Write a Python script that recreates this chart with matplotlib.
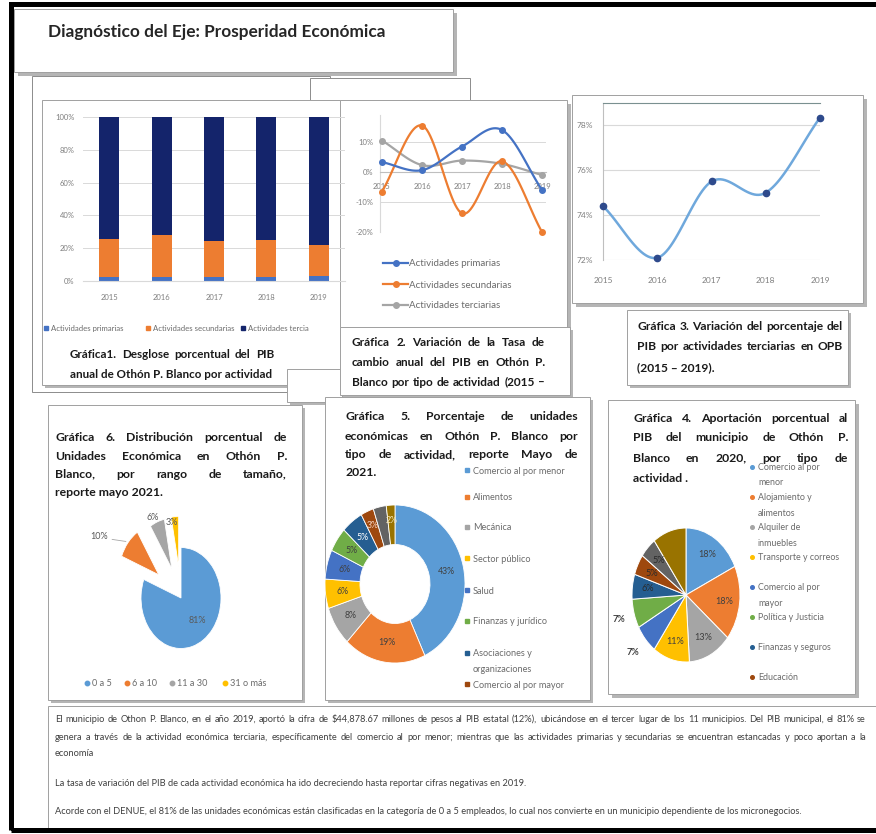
import numpy as np
import matplotlib
matplotlib.use('Agg')
import matplotlib.pyplot as plt
from matplotlib.patches import Rectangle
from matplotlib.lines import Line2D

# ---------------- data ----------------
years = ['2015', '2016', '2017', '2018', '2019']
g1_series = ['Actividades primarias', 'Actividades secundarias', 'Actividades terciarias']
g1_primarias = [2.5, 2.3, 2.4, 2.7, 2.8]
g1_secundarias = [23.1, 25.5, 22.1, 22.3, 18.9]
g1_terciarias = [74.4, 72.2, 75.5, 75.0, 78.3]

g2_primarias = [3.3, 0.6, 8.5, 14.0, -6.0]
g2_secundarias = [-6.5, 15.5, -13.8, 3.6, -20.0]
g2_terciarias = [10.5, 2.3, 3.8, 2.7, -1.0]
g2_ticks = [-20, -10, 0, 10]

g3_terciarias = [74.4, 72.1, 75.5, 75.0, 78.35]
g3_ticks = [72, 74, 76, 78]

g6_categories = ['0 a 5', '6 a 10', '11 a 30', '31 o más']
g6_values = [81, 10, 6, 3]

g5_categories = ['Comercio al por menor', 'Alimentos', 'Mecánica', 'Sector público', 'Salud',
                 'Finanzas y jurídico', 'Asociaciones y\norganizaciones', 'Comercio al por mayor']
g5_values = [43, 19, 8, 6, 6, 5, 5, 3, 3, 2]

g4_categories = ['Comercio al por\nmenor', 'Alojamiento y\nalimentos', 'Alquiler de\ninmuebles',
                 'Transporte y correos', 'Comercio al por\nmayor', 'Política y Justicia',
                 'Finanzas y seguros', 'Educación']
g4_values = [18, 18, 13, 11, 7, 7, 6, 5, 5, 10]

title = 'Diagnóstico del Eje: Prosperidad Económica'
cap1 = ['Gráfica1. Desglose porcentual del PIB', 'anual de Othón P. Blanco por actividad']
cap2 = ['Gráfica 2. Variación de la Tasa de', 'cambio anual del PIB en Othón P.',
        'Blanco por tipo de actividad (2015 –']
cap3 = ['Gráfica 3. Variación del porcentaje del', 'PIB por actividades terciarias en OPB',
        '(2015 – 2019).']
cap6 = ['Gráfica 6. Distribución porcentual de', 'Unidades Económica en Othón P.',
        'Blanco, por rango de tamaño,', 'reporte mayo 2021.']
cap5 = ['Gráfica 5. Porcentaje de unidades', 'económicas en Othón P. Blanco por',
        'tipo de actividad, reporte Mayo de', '2021.']
cap4 = ['Gráfica 4. Aportación porcentual al', 'PIB del municipio de Othón P.',
        'Blanco en 2020, por tipo de', 'actividad .']
body = ['El municipio de Othon P. Blanco, en el año 2019, aportó la cifra de  $44,878.67 millones de pesos al PIB estatal (12%), ubicándose en el tercer lugar de los 11 municipios. Del PIB municipal, el 81% se',
        'genera a través de la actividad económica terciaria, específicamente del comercio al por menor; mientras que las actividades primarias y secundarias se encuentran estancadas y poco aportan a la',
        'economía',
        'La tasa de variación del PIB de cada actividad económica ha ido decreciendo hasta reportar cifras negativas en 2019.',
        'Acorde con el DENUE, el 81% de las unidades económicas están clasificadas en la categoría de 0 a 5 empleados, lo cual nos convierte en un municipio dependiente de los micronegocios.']

# ---------------- styles ----------------
PAL = ['#5B9BD5', '#ED7D31', '#A5A5A5', '#FFC000', '#4472C4', '#70AD47',
       '#255E91', '#9E480E', '#636363', '#997300']
FONT = 'Lato'
TICKC = '#7f7f7f'
LEGC = '#6b6b6b'

W, H = 876, 834
fig = plt.figure(figsize=(W / 100, H / 100), dpi=100)
fig.patch.set_facecolor('white')
renderer = fig.canvas.get_renderer()


def add_ax(x0, y0, x1, y1):
    ax = fig.add_axes([x0 / W, 1 - y1 / H, (x1 - x0) / W, (y1 - y0) / H])
    ax.patch.set_visible(False)
    return ax


def put(x, y, s, size, ha='left', va='center_baseline', **kw):
    kw.setdefault('family', FONT)
    return fig.text(x / W, 1 - y / H, s, fontsize=size, ha=ha, va=va, **kw)


def text_w(s, size, **kw):
    kw.setdefault('family', FONT)
    t = fig.text(0, 0, s, fontsize=size, **kw)
    w = t.get_window_extent(renderer).width
    t.remove()
    return w


def justify(x0, x1, y, s, size, **kw):
    words = s.split()
    widths = [text_w(w, size, **kw) for w in words]
    gap = (x1 - x0 - sum(widths)) / max(len(words) - 1, 1)
    x = x0
    for w, wd in zip(words, widths):
        put(x, y, w, size, **kw)
        x += wd + gap


def caption(lines, x0, x1, ys, size=8.8, justify_last=False):
    kw = dict(weight='bold', color='#1a1a1a')
    maxw = max(text_w(l, size, **kw) for l in lines)
    if maxw > (x1 - x0) * 0.985:
        size = size * (x1 - x0) * 0.985 / maxw
    for i, (l, y) in enumerate(zip(lines, ys)):
        if i < len(lines) - 1 or justify_last:
            justify(x0, x1, y, l, size, **kw)
        else:
            put(x0, y, l, size, **kw)


def box(x0, y0, x1, y1, z, shadow=3, ec='#a0a0a0', lw=0.7):
    if shadow:
        fig.add_artist(Rectangle(((x0 + shadow) / W, 1 - (y1 + shadow) / H), (x1 - x0) / W, (y1 - y0) / H,
                                 transform=fig.transFigure, facecolor='#b5b5b5', edgecolor='none', zorder=z - 0.5))
    fig.add_artist(Rectangle((x0 / W, 1 - y1 / H), (x1 - x0) / W, (y1 - y0) / H,
                             transform=fig.transFigure, facecolor='white', edgecolor=ec, lw=lw, zorder=z))


def mark(x, y, color, marker='s', ms=3.5):
    fig.add_artist(Line2D([x / W], [1 - y / H], marker=marker, markersize=ms, color=color,
                          linestyle='none', transform=fig.transFigure, zorder=4))


def smooth(xs, ys, n=24):
    P = np.column_stack([xs, ys]).astype(float)
    P = np.vstack([2 * P[0] - P[1], P, 2 * P[-1] - P[-2]])
    out = []
    t = np.linspace(0, 1, n, endpoint=False)[:, None]
    for i in range(1, len(P) - 2):
        p0, p1, p2, p3 = P[i - 1], P[i], P[i + 1], P[i + 2]
        out.append(0.5 * (2 * p1 + (-p0 + p2) * t + (2 * p0 - 5 * p1 + 4 * p2 - p3) * t ** 2
                          + (-p0 + 3 * p1 - 3 * p2 + p3) * t ** 3))
    out.append(P[-2][None])
    S = np.vstack(out)
    return S[:, 0], S[:, 1]


# ---------------- boxes ----------------
box(32, 76, 330, 392, -30, shadow=0, ec='#8c8c8c')
box(310, 78, 470, 100, -29, shadow=0, ec='#8c8c8c')
box(14, 9, 453, 72, -28, shadow=4)
box(42, 100, 345, 385, -27, shadow=3)
box(287, 369, 342, 402, -26, shadow=3)
box(340, 100, 567, 327, -25, shadow=4)
box(340, 327, 570, 395, -24, shadow=3)
box(572, 95, 863, 303, -23, shadow=4)
box(627, 310, 848, 385, -22, shadow=3)
box(48, 405, 302, 700, -21, shadow=3)
box(325, 397, 590, 700, -20, shadow=3)
box(608, 400, 855, 694, -19, shadow=4)
box(48, 706, 880, 832, -18, shadow=0)

# outer frame
fig.add_artist(Rectangle((11 / W, 1 - 830 / H), 870 / W, 826 / H, transform=fig.transFigure,
                         facecolor='none', edgecolor='black', lw=3.6, zorder=10))

# ---------------- title ----------------
tw = text_w(title, 10, weight='bold')
put(48, 31, title, 10 * 337 / tw, weight='bold', color='#262626')

# ---------------- Gráfica 1 ----------------
ax1 = add_ax(83, 117, 345, 281)
x = np.arange(len(years))
bw = 0.38
ax1.bar(x, g1_primarias, bw, color='#4472C4', zorder=2)
ax1.bar(x, g1_secundarias, bw, bottom=g1_primarias, color='#ED7D31', zorder=2)
ax1.bar(x, g1_terciarias, bw, bottom=np.add(g1_primarias, g1_secundarias), color='#14246B', zorder=2)
ax1.set_xlim(-0.5, 4.5)
ax1.set_ylim(0, 100)
ax1.set_yticks([0, 20, 40, 60, 80, 100])
ax1.set_yticklabels([f'{v}%' for v in [0, 20, 40, 60, 80, 100]])
ax1.set_xticks(x)
ax1.set_xticklabels(years)
ax1.grid(axis='y', color='#d9d9d9', lw=0.7)
ax1.set_axisbelow(True)
for s in ['top', 'right', 'left']:
    ax1.spines[s].set_visible(False)
ax1.spines['bottom'].set_color('#d9d9d9')
ax1.tick_params(axis='both', length=0, labelsize=5.5, labelcolor=TICKC)
ax1.tick_params(axis='x', pad=9)
ax1.tick_params(axis='y', pad=6)
for lab in ax1.get_xticklabels() + ax1.get_yticklabels():
    lab.set_family(FONT)

leg1 = [(46, 51, 'Actividades primarias', '#4472C4'),
        (148, 153, 'Actividades secundarias', '#ED7D31'),
        (243, 248, 'Actividades tercia', '#14246B')]
for mx, tx, s, col in leg1:
    mark(mx, 328, col, 's', 3.2)
    put(tx, 328, s, 5.6, color=LEGC)
caption(cap1, 70, 274, [353, 373])

# ---------------- Gráfica 2 ----------------
ax2 = add_ax(380, 115, 546, 232)
ax2.set_xlim(-0.05, 4.1)
ax2.set_ylim(-20, 19)
for vals, col in [(g2_terciarias, '#A5A5A5'), (g2_secundarias, '#ED7D31'), (g2_primarias, '#4472C4')]:
    sx, sy = smooth(x, vals)
    ax2.plot(sx, sy, color=col, lw=1.6, zorder=3, solid_capstyle='round')
    ax2.plot(x, vals, 'o', color=col, ms=4, zorder=4, clip_on=False)
ax2.set_yticks(g2_ticks)
ax2.set_yticklabels([f'{v}%' for v in g2_ticks])
ax2.set_xticks(x)
ax2.set_xticklabels(years)
ax2.grid(axis='y', color='#d9d9d9', lw=0.7)
ax2.set_axisbelow(True)
for s in ['top', 'right']:
    ax2.spines[s].set_visible(False)
ax2.spines['bottom'].set_position(('data', 0))
ax2.spines['bottom'].set_color('#bfbfbf')
ax2.spines['left'].set_color('#d9d9d9')
ax2.tick_params(axis='both', length=0, labelsize=5.5, labelcolor=TICKC)
ax2.tick_params(axis='x', pad=8)
ax2.tick_params(axis='y', pad=5)
for lab in ax2.get_xticklabels() + ax2.get_yticklabels():
    lab.set_family(FONT)

for (y, s, col) in [(263, 'Actividades primarias', '#4472C4'),
                    (284, 'Actividades secundarias', '#ED7D31'),
                    (305, 'Actividades terciarias', '#A5A5A5')]:
    fig.add_artist(Line2D([383 / W, 408 / W], [1 - y / H] * 2, color=col, lw=1.6,
                          transform=fig.transFigure, zorder=4))
    mark(395.5, y, col, 'o', 4)
    put(409, y, s, 7, color=LEGC)
caption(cap2, 352, 545, [341, 361, 381], justify_last=True)

# ---------------- Gráfica 3 ----------------
ax3 = add_ax(603, 103, 820, 260)
ax3.set_xlim(0, 4)
ax3.set_ylim(72, 79)
sx, sy = smooth(x, g3_terciarias)
ax3.plot(sx, sy, color='#6FA8DC', lw=1.8, zorder=3, clip_on=False)
ax3.plot(x, g3_terciarias, 'o', color='#2E4A8C', ms=4.5, zorder=4, clip_on=False)
ax3.set_yticks(g3_ticks)
ax3.set_yticklabels([f'{v}%' for v in g3_ticks])
ax3.set_xticks(x)
ax3.set_xticklabels(years)
ax3.grid(axis='y', color='#d9d9d9', lw=0.8)
ax3.set_axisbelow(True)
ax3.spines['right'].set_visible(False)
ax3.spines['bottom'].set_visible(False)
ax3.spines['top'].set_color('#7a9090')
ax3.spines['left'].set_color('#bfbfbf')
ax3.tick_params(axis='both', length=0, labelsize=6, labelcolor=TICKC)
ax3.tick_params(axis='x', pad=12)
ax3.tick_params(axis='y', pad=7)
for lab in ax3.get_xticklabels() + ax3.get_yticklabels():
    lab.set_family(FONT)
caption(cap3, 637, 843, [325, 346, 367])

# ---------------- Gráfica 6 ----------------
cx, cy, rx, ry = 181, 598, 40, 50.5
L = 2.6
ax6 = add_ax(cx - L * rx, cy - L * ry, cx + L * rx, cy + L * ry)
ax6.pie(g6_values, colors=PAL[:4], startangle=90, counterclock=False,
        explode=[0, 0.72, 0.62, 0.62], wedgeprops=dict(edgecolor='white', lw=0.6))
ax6.set_aspect('auto')
ax6.set_xlim(-L, L)
ax6.set_ylim(-L, L)
g6_label_xy = [(0.42, -0.44), (-2.05, 1.21), (-0.7, 1.6), (-0.22, 1.5)]
for (lx, ly), v in zip(g6_label_xy, g6_values):
    ax6.text(lx, ly, f'{v}%', ha='center', va='center', fontsize=6.5, color='#595959', family=FONT)
ax6.plot([-1.72, -1.38], [1.16, 1.12], color='#a6a6a6', lw=0.6)
caption(cap6, 55, 287, [437, 455, 473, 491])
for mx, s, col in zip([87, 127, 172, 225], g6_categories, PAL[:4]):
    mark(mx, 683, col, 'o', 3.2)
    put(mx + 5, 683, s, 6.6, color=LEGC)

# ---------------- Gráfica 5 ----------------
cx, cy, rx, ry = 395, 584, 70, 79
L = 1.05
ax5 = add_ax(cx - L * rx, cy - L * ry, cx + L * rx, cy + L * ry)
wedges, _ = ax5.pie(g5_values, colors=PAL, startangle=90, counterclock=False,
                    wedgeprops=dict(width=0.5, edgecolor='white', lw=0.6))
ax5.set_aspect('auto')
ax5.set_xlim(-L, L)
ax5.set_ylim(-L, L)
tot = float(sum(g5_values))
cum = 0.0
g5_txtcol = ['#404040'] * 6 + ['white', '#f3d2bf', None, '#f5e6b8']
for i, v in enumerate(g5_values):
    mid = np.deg2rad(360 * (cum + v / 2) / tot)
    cum += v
    if g5_txtcol[i] is None:
        continue
    r = 0.75 if i < 7 else 0.8
    ax5.text(r * np.sin(mid), r * np.cos(mid), f'{v}%', ha='center', va='center',
             fontsize=6.3, color=g5_txtcol[i], family=FONT)
caption(cap5, 345, 578, [416, 435, 454, 472])
g5_leg_y = [470, 497, 527, 558, 590, 621, 653, 684]
for s, y, col in zip(g5_categories, g5_leg_y, PAL):
    mark(467, y, col, 's', 3.2)
    for j, part in enumerate(s.split('\n')):
        put(473, y + 15 * j, part, 6.6, color=LEGC)

# ---------------- Gráfica 4 ----------------
cx, cy, rx, ry = 686, 595, 54, 67
L = 1.5
ax4 = add_ax(cx - L * rx, cy - L * ry, cx + L * rx, cy + L * ry)
ax4.pie(g4_values, colors=PAL, startangle=90, counterclock=False,
        wedgeprops=dict(edgecolor='white', lw=0.7))
ax4.set_aspect('auto')
ax4.set_xlim(-L, L)
ax4.set_ylim(-L, L)
tot = float(sum(g4_values))
cum = 0.0
for i, v in enumerate(g4_values):
    mid = np.deg2rad(360 * (cum + v / 2) / tot)
    cum += v
    if i in (4, 5):
        r, col, fw = 1.3, '#404040', 'bold'
    elif i < 4:
        r, col, fw = 0.72, '#404040', 'normal'
    elif i < 9:
        r, col, fw = 0.72, '#2b2b2b', 'normal'
    else:
        continue
    ax4.text(r * np.sin(mid), r * np.cos(mid), f'{v}%', ha='center', va='center',
             fontsize=6.6, color=col, family=FONT, weight=fw)
caption(cap4, 633, 848, [417, 437, 457, 477])
g4_leg_y = [467, 497, 527, 557, 587, 617, 647, 677]
for s, y, col in zip(g4_categories, g4_leg_y, PAL):
    mark(752, y, col, 'o', 2.6)
    for j, part in enumerate(s.split('\n')):
        put(758, y + 15 * j, part, 6.4, color=LEGC)

# ---------------- bottom text ----------------
bsize = 10 * 750 / text_w(body[4], 10)
bkw = dict(color='#404040')
justify(55, 866, 718, body[0], bsize, **bkw)
justify(55, 866, 736, body[1], bsize, **bkw)
put(55, 752, body[2], bsize, **bkw)
put(55, 782, body[3], bsize, **bkw)
put(55, 811, body[4], bsize, **bkw)

fig.savefig('out.png', dpi=100, facecolor='white')
